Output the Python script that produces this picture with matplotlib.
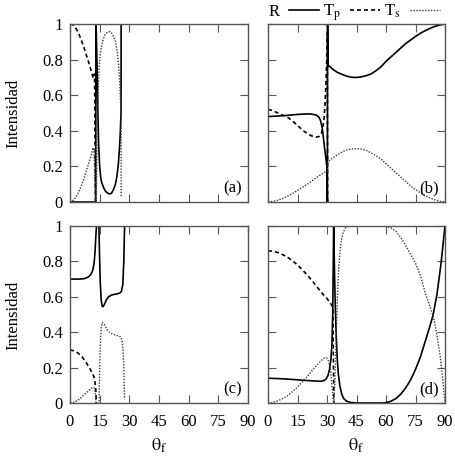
import matplotlib
matplotlib.use("Agg")
import matplotlib.pyplot as plt
import numpy as np

plt.rcParams['font.family'] = ['Liberation Serif', 'DejaVu Serif']
plt.rcParams['mathtext.fontset'] = 'stix'

# ---------- panel (a) ----------
a_R_th = [0, 13.0, 13.1, 13.3, 13.7, 14.1, 14.5, 15, 15.5, 16, 17, 18, 19, 20.2, 21, 22, 23, 23.8, 24.5, 25, 25.4, 25.8, 25.85, 26.5]
a_R_v = [0, 0, 1.0, 0.95, 0.75, 0.5, 0.32, 0.2, 0.14, 0.11, 0.08, 0.06, 0.05, 0.045, 0.05, 0.07, 0.1, 0.15, 0.22, 0.3, 0.38, 0.5, 1.0, 1.0]
a_Tp_th = [0, 1, 2, 3, 4, 5, 6, 7, 8, 9, 10, 11, 11.8, 12.4, 12.9]
a_Tp_v = [1.0, 0.998, 0.99, 0.975, 0.955, 0.93, 0.9, 0.87, 0.835, 0.8, 0.765, 0.725, 0.695, 0.72, 0.0]
a_Ts_th = [0, 1, 2, 3, 4, 5, 6, 7, 8, 9, 10, 11, 11.6, 12.2, 12.8, 13.3, 13.5, 13.8, 14.2, 14.7, 15.3, 16, 17, 18, 19,
           20.2, 21, 22, 23, 23.8, 24.5, 25, 25.4, 25.8, 25.85]
a_Ts_v = [0, 0.003, 0.012, 0.028, 0.048, 0.072, 0.1, 0.13, 0.165, 0.2, 0.235, 0.275, 0.305, 0.28, 0.0, 0.0, 0.2, 0.45,
          0.62, 0.75, 0.83, 0.88, 0.92, 0.945, 0.955, 0.957, 0.95, 0.93, 0.9, 0.85, 0.78, 0.7, 0.6, 0.5, 0.03]

# ---------- panel (b) ----------
b_R_th = [0, 5, 10, 15, 20, 22, 24, 25, 26, 26.8, 27.5, 28.2, 28.8, 29.4, 29.9, 30.2, 30.3, 30.5, 31, 32, 33, 35, 37,
          40, 43, 45, 47, 50, 52.5, 55, 57.5, 60, 62.5, 65, 67.5, 70, 72.5, 75, 77.5, 80, 82.5, 85, 87.5, 90]
b_R_v = [0.48, 0.483, 0.487, 0.492, 0.495, 0.494, 0.49, 0.485, 0.475, 0.455, 0.42, 0.36, 0.3, 0.25, 0.2, 0.0, 1.0, 0.77,
         0.765, 0.755, 0.745, 0.73, 0.72, 0.707, 0.70, 0.70, 0.702, 0.71, 0.72, 0.738, 0.76, 0.79, 0.815, 0.84, 0.865,
         0.89, 0.91, 0.93, 0.948, 0.963, 0.976, 0.987, 0.995, 1.0]
b_Tp_th = [0, 2, 4, 6, 8, 10, 12, 14, 16, 18, 20, 22, 24, 25, 26, 27, 27.8, 28.5, 29, 29.5, 29.9, 30.15, 30.3]
b_Tp_v = [0.52, 0.515, 0.505, 0.495, 0.485, 0.475, 0.46, 0.44, 0.42, 0.40, 0.385, 0.372, 0.366, 0.365, 0.368, 0.38,
          0.41, 0.47, 0.55, 0.68, 0.8, 0.95, 0.0]
b_Ts_th = [0, 2.5, 5, 7.5, 10, 12.5, 15, 17.5, 20, 22.5, 25, 27, 28.5, 29.5, 30.2, 30.4, 32, 34, 36, 38, 40, 42.5, 45,
           47.5, 50, 52.5, 55, 57.5, 60, 62.5, 65, 67.5, 70, 72.5, 75, 77.5, 80, 82.5, 85, 87.5, 90]
b_Ts_v = [0, 0.003, 0.01, 0.02, 0.033, 0.048, 0.065, 0.083, 0.1, 0.12, 0.14, 0.155, 0.165, 0.17, 0.17, 0.225, 0.24,
          0.255, 0.27, 0.283, 0.292, 0.298, 0.30, 0.297, 0.29, 0.275, 0.26, 0.24, 0.215, 0.19, 0.165, 0.14, 0.115,
          0.09, 0.07, 0.052, 0.036, 0.022, 0.012, 0.004, 0]

# ---------- panel (c) ----------
c_R_th = [0, 4, 7, 9, 10.5, 11.5, 12.2, 12.7, 13.1, 13.4, 14.6, 14.9, 15.3, 15.8, 16.3, 16.8, 17.5, 18.5, 19.5, 21, 23,
          25, 26, 26.7, 27.2, 27.6, 28.2]
c_R_v = [0.70, 0.70, 0.702, 0.71, 0.725, 0.75, 0.79, 0.86, 0.95, 1.0, 1.0, 0.85, 0.68, 0.58, 0.545, 0.545, 0.56, 0.585,
         0.6, 0.61, 0.615, 0.62, 0.63, 0.67, 0.8, 1.0, 1.0]
c_Tp_th = [0, 2, 4, 6, 8, 10, 11.5, 12.5, 13, 13.3]
c_Tp_v = [0.30, 0.295, 0.283, 0.262, 0.232, 0.195, 0.165, 0.135, 0.08, 0.0]
c_Ts_th = [0, 2, 4, 6, 8, 10, 11.5, 12.3, 12.8, 13.2, 14.7, 15.0, 15.4, 15.8, 16.3, 17, 18, 19, 20.5, 22, 24, 25.5,
           26.3, 26.8, 27.2, 27.6]
c_Ts_v = [0, 0.004, 0.015, 0.035, 0.055, 0.075, 0.088, 0.085, 0.06, 0.0, 0.0, 0.2, 0.35, 0.43, 0.455, 0.45, 0.43, 0.41,
          0.395, 0.387, 0.38, 0.375, 0.355, 0.3, 0.2, 0.02]

# ---------- panel (d) ----------
d_R_th = [0, 5, 10, 15, 20, 24, 27, 28.5, 29.5, 30.5, 31.3, 32, 32.5, 32.9, 33.2, 33.4, 33.8, 34.2, 34.7, 35.2, 35.8,
          36.5, 37.5, 38.5, 40, 42, 45, 58, 60, 62.5, 65, 67.5, 70, 72.5, 75, 77.5, 80, 82.5, 84, 86, 88, 90]
d_R_v = [0.14, 0.138, 0.135, 0.131, 0.127, 0.124, 0.123, 0.127, 0.135, 0.155, 0.19, 0.25, 0.33, 0.5, 0.8, 1.0, 0.75,
         0.55, 0.38, 0.25, 0.16, 0.1, 0.05, 0.025, 0.01, 0.003, 0, 0, 0.002, 0.01, 0.025, 0.05, 0.085, 0.13, 0.19, 0.26,
         0.35, 0.44, 0.5, 0.62, 0.79, 1.0]
d_Tp_th = [0, 2.5, 5, 7.5, 10, 12.5, 15, 17.5, 20, 22.5, 25, 27.5, 30, 32, 33, 33.2, 33.5]
d_Tp_v = [0.86, 0.857, 0.85, 0.838, 0.823, 0.803, 0.78, 0.752, 0.722, 0.69, 0.655, 0.62, 0.59, 0.56, 0.54, 0.3, 0.0]
d_Ts_th = [0, 2.5, 5, 7.5, 10, 12.5, 15, 17.5, 20, 22.5, 25, 27, 28.5, 29.7, 30.5, 31.2, 31.9, 32.5, 33.2, 33.5, 34,
           34.5, 35, 35.5, 36, 36.8, 37.5, 38.5, 39.5, 41, 45, 55, 60, 62.5, 65, 67.5, 70, 72.5, 75, 77.5, 80, 82.5,
           84, 85.5, 87.5, 88.8, 90]
d_Ts_v = [0, 0.003, 0.012, 0.025, 0.042, 0.065, 0.09, 0.12, 0.15, 0.185, 0.215, 0.24, 0.253, 0.255, 0.245, 0.22, 0.18,
          0.1, 0.02, 0, 0.12, 0.3, 0.5, 0.66, 0.77, 0.88, 0.93, 0.97, 0.99, 0.998, 1.0, 1.0, 0.998, 0.99, 0.97, 0.935,
          0.89, 0.84, 0.79, 0.72, 0.62, 0.54, 0.49, 0.41, 0.27, 0.14, 0]

panels = [
    ("(a)", a_R_th, a_R_v, a_Tp_th, a_Tp_v, a_Ts_th, a_Ts_v),
    ("(b)", b_R_th, b_R_v, b_Tp_th, b_Tp_v, b_Ts_th, b_Ts_v),
    ("(c)", c_R_th, c_R_v, c_Tp_th, c_Tp_v, c_Ts_th, c_Ts_v),
    ("(d)", d_R_th, d_R_v, d_Tp_th, d_Tp_v, d_Ts_th, d_Ts_v),
]

W, H = 456, 465
fig = plt.figure(figsize=(W / 100, H / 100), dpi=100)
boxes = [
    [70 / W, 1 - 202 / H, 178 / W, 178 / H],
    [268 / W, 1 - 202 / H, 177 / W, 178 / H],
    [70 / W, 1 - 403 / H, 178 / W, 177 / H],
    [268 / W, 1 - 403 / H, 177 / W, 177 / H],
]

fs = 12
spine_col = "#555555"
handles = None
for i, (lab, rth, rv, pth, pv, sth, sv) in enumerate(panels):
    ax = fig.add_axes(boxes[i])
    l1, = ax.plot(rth, rv, color="black", lw=1.2)
    l2, = ax.plot(pth, pv, color="black", lw=1.2, linestyle=(0, (2.4, 1.8)))
    l3, = ax.plot(sth, sv, color="#3a3a3a", lw=1.0, linestyle=(0, (1.0, 1.1)))
    if handles is None:
        handles = [l1, l2, l3]
    ax.set_xlim(0, 90)
    ax.set_ylim(0, 1)
    ax.set_xticks(np.arange(0, 91, 15))
    ax.set_yticks([0, 0.2, 0.4, 0.6, 0.8, 1.0])
    ax.set_yticklabels(["0", "0.2", "0.4", "0.6", "0.8", "1"])
    ax.tick_params(direction="in", length=5.5, width=0.8, color=spine_col,
                   top=True, right=True, labelsize=fs, pad=5)
    ax.tick_params(axis="x", pad=8)
    for s in ax.spines.values():
        s.set_color(spine_col)
        s.set_linewidth(1.0)
        s.set_zorder(5)
    if i in (0, 1):
        ax.set_xticklabels([])
    else:
        ax.set_xlabel(r"$\mathrm{\theta_f}$", fontsize=fs + 1, labelpad=5)
    if i in (1, 3):
        ax.set_yticklabels([])
    ax.text(0.965, 0.03, lab, transform=ax.transAxes, ha="right", va="bottom", fontsize=fs)

fig.text(13 / W, 1 - 113 / H, "Intensidad", rotation=90, ha="center", va="center", fontsize=fs)
fig.text(13 / W, 1 - 315 / H, "Intensidad", rotation=90, ha="center", va="center", fontsize=fs)

fig.legend(handles, ["R", r"T$_\mathrm{p}$", r"T$_\mathrm{s}$"], loc="upper right",
           bbox_to_anchor=(442 / W, 0.998), ncol=3, frameon=False, markerfirst=False,
           fontsize=fs, handlelength=1.8, handletextpad=0.6, columnspacing=0.2,
           borderaxespad=0.0, borderpad=0.1)

fig.savefig("out.png", dpi=100)
